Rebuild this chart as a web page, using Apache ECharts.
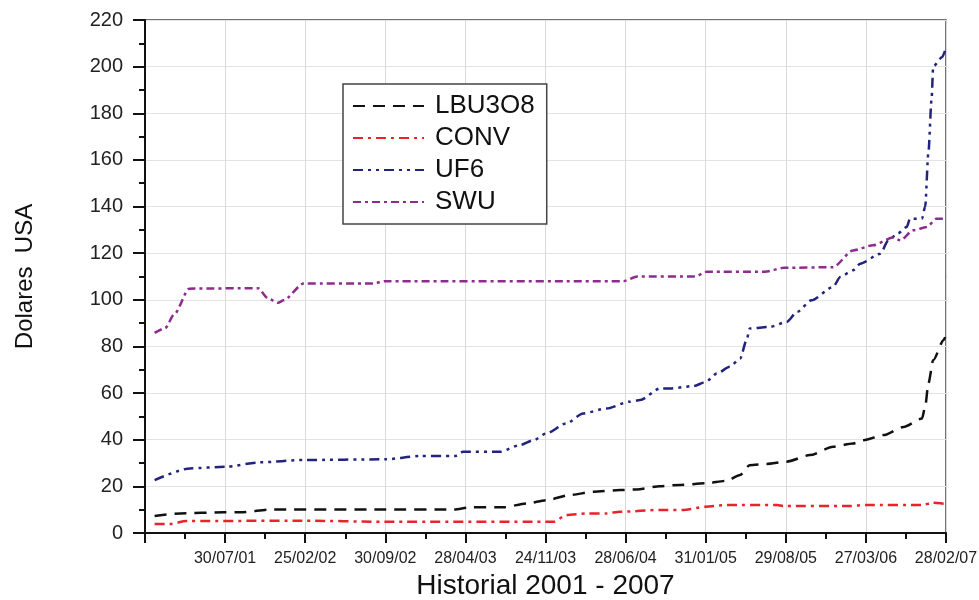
<!DOCTYPE html>
<html>
<head>
<meta charset="utf-8">
<script src="https://cdn.jsdelivr.net/npm/echarts@6/dist/echarts.min.js"></script>
<style>
html,body{margin:0;padding:0;background:#fff;}
#chart{width:979px;height:600px;}
</style>
</head>
<body>
<div id="chart"></div>
<script>
// x positions are in "tick periods" (0 = axis start, 1 = 30/07/01, ... 10 = 28/02/07)
var xTickLabels = ['', '30/07/01', '25/02/02', '30/09/02', '28/04/03', '24/11/03', '28/06/04', '31/01/05', '29/08/05', '27/03/06', '28/02/07'];
var seriesNames = ['LBU3O8', 'CONV', 'UF6', 'SWU'];

var lbu3o8 = [[0.12,7.3],[0.44,8.4],[0.98,8.9],[1.19,8.9],[1.60,10.1],[3.0,10.1],[3.85,10.1],[4.06,11],[4.47,11],[4.77,12.7],[5.01,14.1],[5.31,16.3],[5.60,17.7],[5.93,18.4],[6.14,18.7],[6.43,20.1],[6.68,20.6],[7.0,21.3],[7.26,22.4],[7.43,24.9],[7.55,29.1],[7.76,29.6],[8.01,30.6],[8.30,33.4],[8.59,37],[8.84,38.4],[8.97,39.8],[9.22,42],[9.47,45.5],[9.70,49.1],[9.74,54.1],[9.78,64.1],[9.84,74.1],[9.97,82.7],[9.99,84]];

var conv = [[0.12,3.9],[0.31,3.9],[0.52,5.1],[1.97,5.3],[3.0,4.8],[5.10,4.8],[5.26,7.7],[5.51,8.4],[5.76,8.4],[5.93,9.1],[6.43,9.9],[6.72,9.9],[7.0,11.3],[7.26,12],[7.89,12],[7.97,11.6],[8.80,11.6],[9.01,12],[9.70,12],[9.84,13],[9.99,12.5]];

var uf6 = [[0.12,22.7],[0.56,27.7],[1.0,28.4],[1.44,30.3],[1.97,31.3],[3.0,31.6],[3.43,33],[3.87,33],[3.97,34.8],[4.43,34.8],[4.68,37.7],[4.85,39.8],[5.01,42.7],[5.26,47],[5.47,51.3],[5.76,53.4],[6.05,56.3],[6.18,57],[6.43,62],[6.55,62],[6.85,63],[7.0,64.8],[7.14,68.4],[7.30,71.3],[7.43,74.8],[7.51,82.7],[7.55,87.7],[7.80,88.4],[8.01,90.5],[8.14,94.8],[8.32,99.8],[8.59,105.5],[8.68,109.8],[8.84,112.7],[8.93,115.5],[9.18,119.8],[9.28,125.5],[9.40,128.5],[9.51,131.2],[9.55,134.8],[9.70,134.8],[9.74,140],[9.78,163],[9.82,186],[9.84,200],[9.95,204],[9.99,207]];

var swu = [[0.12,85.8],[0.25,87.8],[0.37,94],[0.55,104.8],[1.41,105],[1.54,100.5],[1.66,98.7],[1.73,99.8],[1.98,107],[2.85,107],[3.0,108],[5.97,108],[6.15,110],[6.87,110],[7.01,112],[7.74,112],[7.97,113.7],[8.59,114],[8.84,121.2],[9.09,123.4],[9.34,126.7],[9.43,125.5],[9.59,129.8],[9.76,131.2],[9.88,134.8],[9.99,134.8]];

var chart = echarts.init(document.getElementById('chart'), null, {renderer:'canvas'});
var FONT = '"Liberation Sans", Arial, sans-serif';

function mk(name, data, color, dash, width) {
  return {
    name: name, type: 'line', data: data, symbol: 'none', smooth: 0.25, smoothMonotone: 'x',
    lineStyle: {color: color, width: width, type: dash},
    itemStyle: {color: color}
  };
}

chart.setOption({
  animation: false,
  backgroundColor: '#fff',
  grid: {left: 145, right: 33, top: 20, bottom: 67, containLabel: false, outerBoundsMode: 'none',
         show: true, borderColor: '#444', borderWidth: 1.5},
  legend: {
    left: 343, top: 84,
    orient: 'vertical',
    backgroundColor: '#fff',
    borderColor: '#444', borderWidth: 1.5, borderRadius: 0,
    padding: [9, 12, 9, 9],
    itemWidth: 71, itemHeight: 14, itemGap: 6,
    itemStyle: {opacity: 0},
    textStyle: {fontFamily: FONT, fontSize: 26, color: '#111', lineHeight: 24, padding: [0,0,0,6]},
    data: seriesNames
  },
  xAxis: {
    type: 'value', min: 0, max: 10, interval: 1,
    name: 'Historial 2001 - 2007', nameLocation: 'middle', nameGap: 34,
    nameTextStyle: {fontFamily: FONT, fontSize: 28, color: '#111'},
    axisLine: {show: true, onZero: false, lineStyle: {color: '#111', width: 2}},
    axisTick: {show: true, length: 10, lineStyle: {color: '#111', width: 2}},
    minorTick: {show: true, splitNumber: 2, length: 6, lineStyle: {color: '#111', width: 2}},
    splitLine: {show: true, lineStyle: {color: '#d9d9d9', width: 1}},
    axisLabel: {
      fontFamily: FONT, fontSize: 16, color: '#222', margin: 18, hideOverlap: false,
      formatter: function (v) { return xTickLabels[Math.round(v)] || ''; }
    }
  },
  yAxis: {
    type: 'value', min: 0, max: 220, interval: 20,
    name: 'Dolares  USA', nameLocation: 'middle', nameGap: 108, nameRotate: 90,
    nameTextStyle: {fontFamily: FONT, fontSize: 24, color: '#111'},
    axisLine: {show: true, lineStyle: {color: '#111', width: 2}},
    axisTick: {show: true, length: 12, lineStyle: {color: '#111', width: 2}},
    minorTick: {show: true, splitNumber: 2, length: 6, lineStyle: {color: '#111', width: 2}},
    splitLine: {show: true, lineStyle: {color: '#e3e3e3', width: 1}},
    axisLabel: {fontFamily: FONT, fontSize: 20, color: '#222', margin: 22}
  },
  series: [
    mk('LBU3O8', lbu3o8, '#111111', [12, 8], 2.5),
    mk('CONV', conv, '#e8232b', [10, 5, 3, 5], 2.5),
    mk('UF6', uf6, '#22237e', [10, 5, 3, 5, 3, 5], 2.5),
    mk('SWU', swu, '#8e2b8e', [8, 4, 3, 4], 2.5)
  ]
});
</script>
</body>
</html>
